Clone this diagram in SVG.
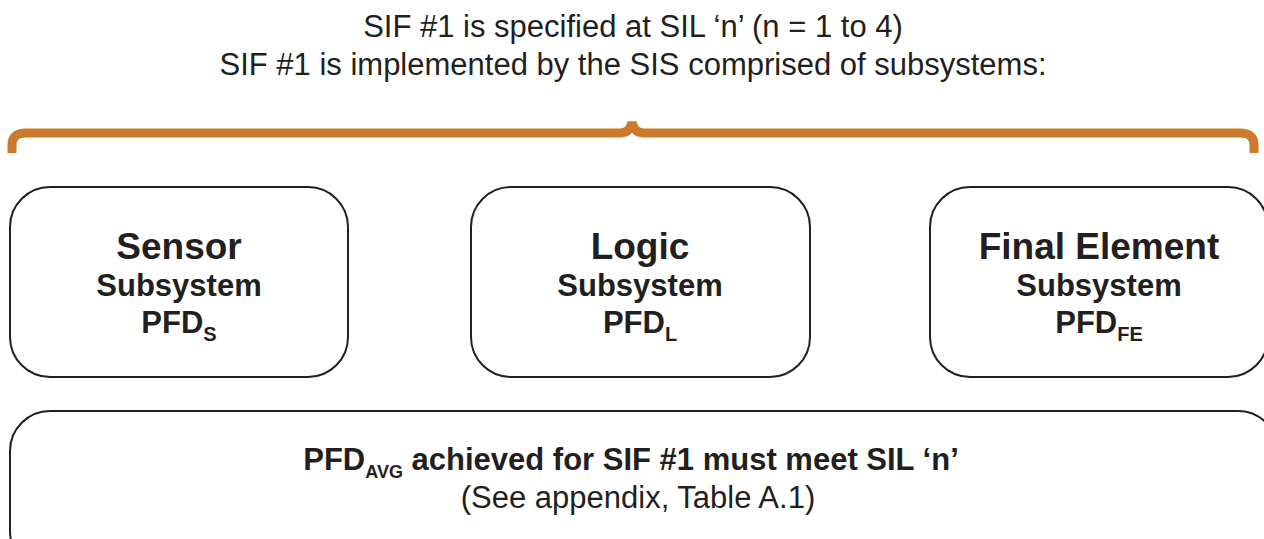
<svg xmlns="http://www.w3.org/2000/svg" width="1264" height="539" viewBox="0 0 1264 539">
<style>
text{font-family:"Liberation Sans",Arial,sans-serif;fill:#231F20;text-anchor:middle}
.box{fill:#fff;stroke:#231F20;stroke-width:2}
.t1{font-size:37px;font-weight:bold}
.t2{font-size:31px;font-weight:bold}
.sub{font-size:20px;font-weight:bold}
.sub2{font-size:18px;font-weight:bold}
.hd{font-size:31px}
.brace{fill:none;stroke:#CB7A2C;stroke-width:9}
</style>
<rect width="1264" height="539" fill="#fff"/>
<g id="title">
<text class="hd" x="633" y="37">SIF #1 is specified at SIL ‘n’ (n = 1 to 4)</text>
<text class="hd" x="633" y="75">SIF #1 is implemented by the SIS comprised of subsystems:</text>
</g>
<g id="connectors">
<path class="brace" d="M12,153 V145 Q12,133 26,133 H620 Q630,133 632,122 Q634,133 644,133 H1240 Q1254,133 1254,145 V153"/>
</g>
<g id="sensor">
<rect class="box" x="10" y="187" width="338" height="190" rx="40"/>
<text class="t1" x="179" y="259">Sensor</text>
<text class="t2" x="179" y="296">Subsystem</text>
<text class="t2" x="179" y="333">PFD<tspan class="sub" dy="8">S</tspan></text>
</g>
<g id="logic">
<rect class="box" x="471" y="187" width="339" height="190" rx="40"/>
<text class="t1" x="640" y="259">Logic</text>
<text class="t2" x="640" y="296">Subsystem</text>
<text class="t2" x="640" y="333">PFD<tspan class="sub" dy="8">L</tspan></text>
</g>
<g id="final">
<rect class="box" x="930" y="187" width="338" height="190" rx="40"/>
<text class="t1" x="1099" y="259">Final Element</text>
<text class="t2" x="1099" y="296">Subsystem</text>
<text class="t2" x="1099" y="333">PFD<tspan class="sub" dy="8">FE</tspan></text>
</g>
<g id="result">
<rect class="box" x="10" y="411" width="1268" height="160" rx="40"/>
<text class="t2" x="631" y="470">PFD<tspan class="sub2" dy="8">AVG</tspan><tspan dy="-8"> achieved for SIF #1 must meet SIL ‘n’</tspan></text>
<text class="hd" x="638" y="508">(See appendix, Table A.1)</text>
</g>
</svg>
